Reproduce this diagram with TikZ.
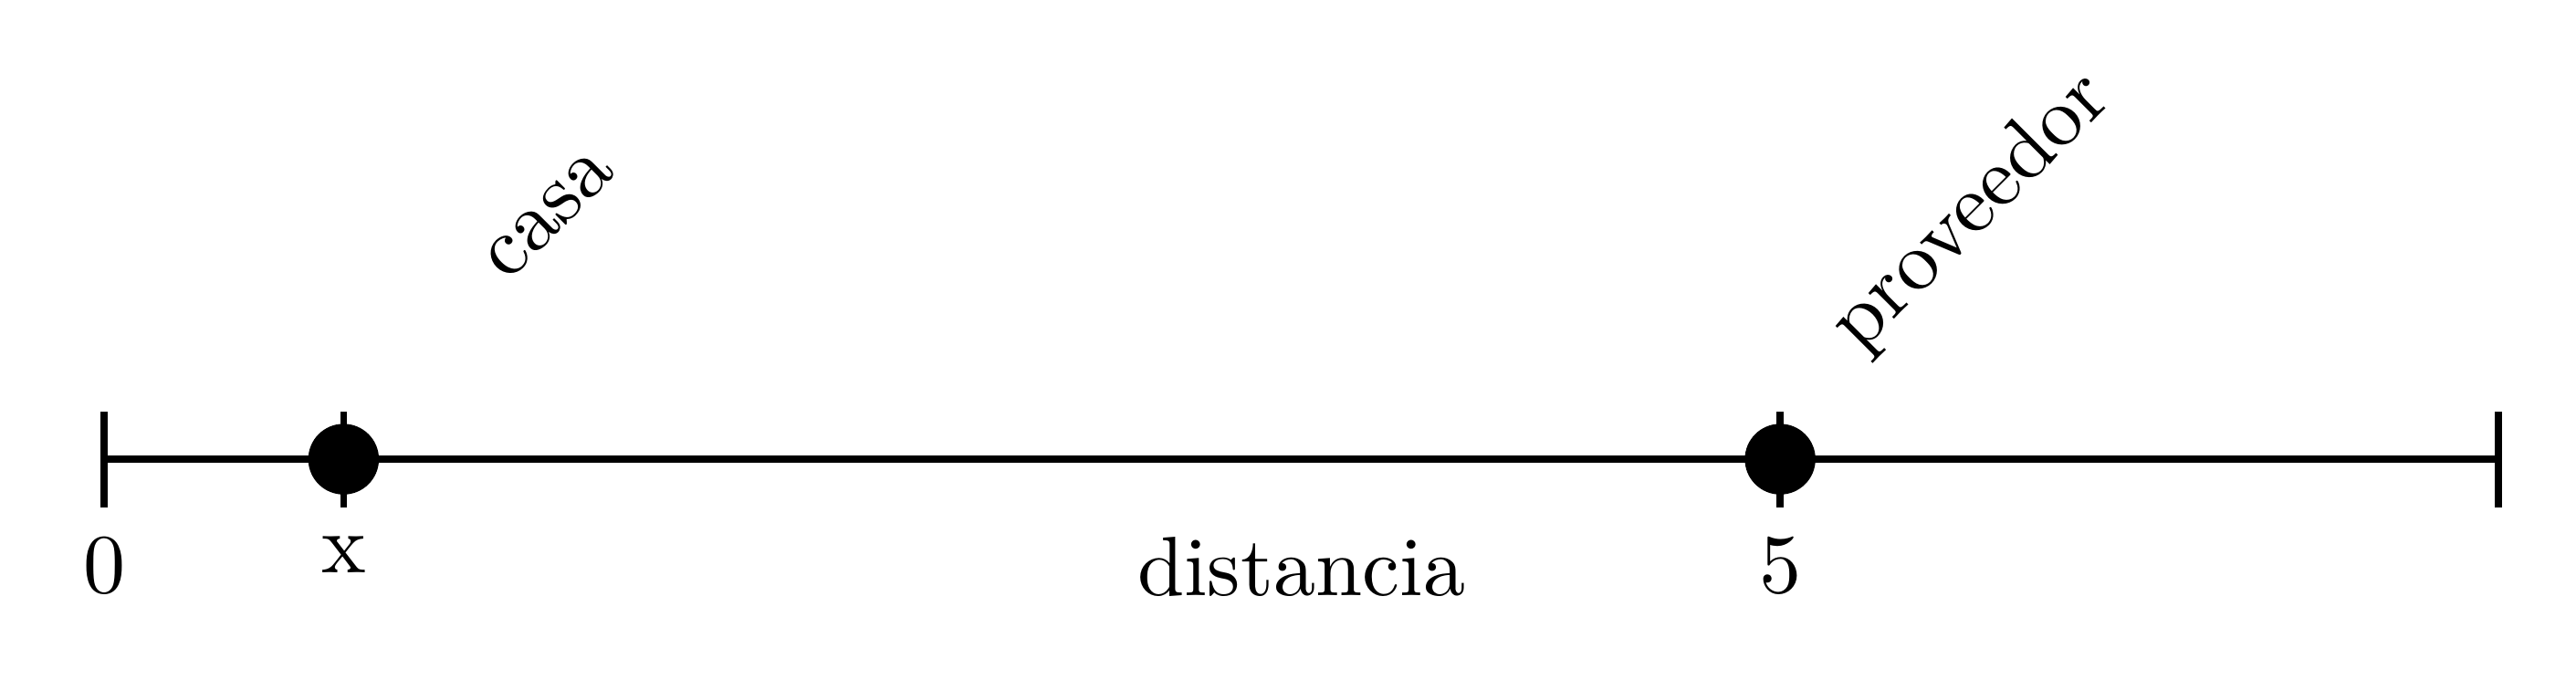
\documentclass[tikz,border=0pt]{standalone}
\begin{document}
\begin{tikzpicture}[eje/.style={thick}, punto/.style={fill=black}]
\useasboundingbox (-0.435,-0.919) rectangle (10.324,1.918);
\coordinate (O) at (0,0);
\coordinate (X) at (1,0);
\coordinate (P) at (7,0);
\coordinate (F) at (10,0);
\draw[eje] (O)--(F);
\foreach \c in {O,X,P,F}
\draw[eje] ([yshift=-2mm]\c)--([yshift=2mm]\c);
\filldraw[punto] (X) circle[radius=4pt];
\filldraw[punto] (P) circle[radius=4pt];
\node[below] (l0) at ([yshift=-2mm]O) {0};
\node[below] (lx) at ([yshift=-2mm]X) {x};
\node[below] (l5) at ([yshift=-2mm]P) {5};
\node[below] (dist) at (5,-0.2) {distancia};
\node[rotate=45] (casa) at (1.86,1.02) {casa};
\node[rotate=45] (prov) at (7.8,1.03) {proveedor};
\end{tikzpicture}
\end{document}
